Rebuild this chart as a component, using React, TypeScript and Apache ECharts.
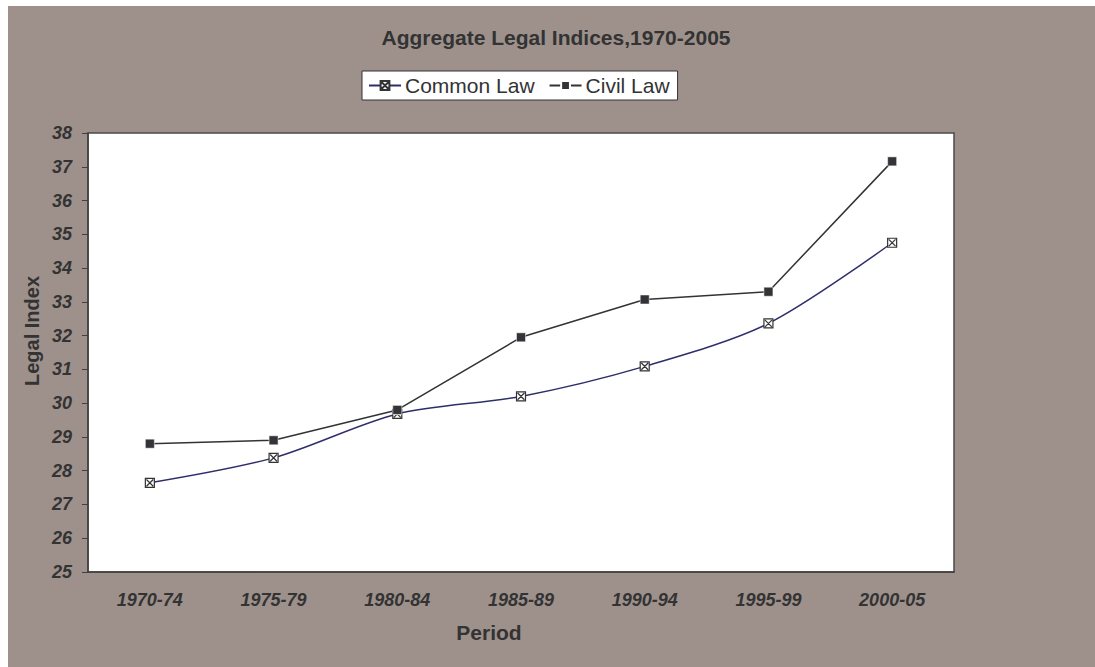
import React, { useEffect, useRef } from "react";
import * as echarts from "echarts";

const categories = ["1970-74", "1975-79", "1980-84", "1985-89", "1990-94", "1995-99", "2000-05"];
const commonLaw = [27.64, 28.38, 29.68, 30.2, 31.09, 32.36, 34.75];
const civilLaw = [28.8, 28.9, 29.8, 31.95, 33.07, 33.3, 37.16];
const titleText = "Aggregate Legal Indices,1970-2005";
const yName = "Legal Index";
const xName = "Period";

const FONT = "'Liberation Sans', Arial, Helvetica, sans-serif";
const TEXT = "#333333";

export default function App() {
  const ref = useRef<HTMLDivElement>(null);
  useEffect(() => {
    if (!ref.current) return;
    const chart = echarts.init(ref.current, undefined, { renderer: "svg" });
    chart.setOption({
      animation: false,
      backgroundColor: "#9E918C",
      textStyle: { fontFamily: FONT },
      graphic: [
        {
          type: "text",
          x: 548,
          y: 31,
          style: {
            text: titleText,
            font: `bold 21px ${FONT}`,
            fill: TEXT,
            textAlign: "center",
            textVerticalAlign: "middle",
          },
        },
        {
          type: "text",
          x: 24,
          y: 325,
          rotation: Math.PI / 2,
          style: {
            text: yName,
            font: `bold 20px ${FONT}`,
            fill: TEXT,
            textAlign: "center",
            textVerticalAlign: "middle",
          },
        },
        {
          type: "text",
          x: 481,
          y: 626,
          style: {
            text: xName,
            font: `bold 21px ${FONT}`,
            fill: TEXT,
            textAlign: "center",
            textVerticalAlign: "middle",
          },
        },
      ],
      legend: {
        left: 354,
        top: 65,
        backgroundColor: "#ffffff",
        borderColor: "#333333",
        borderWidth: 1,
        padding: [4, 8, 4, 6],
        itemWidth: 32,
        itemHeight: 11,
        itemGap: 14,
        textStyle: { fontSize: 21, color: TEXT, fontFamily: FONT, padding: [0, 0, 0, -1] },
        data: ["Common Law", "Civil Law"],
      },
      grid: {
        left: 80,
        right: 141,
        top: 127,
        bottom: 95,
        show: true,
        backgroundColor: "#ffffff",
        borderColor: "#4a4a4a",
        borderWidth: 1.5,
      },
      xAxis: {
        type: "category",
        data: categories,
        boundaryGap: true,
        axisLine: { lineStyle: { color: "#404040", width: 1.5 } },
        axisTick: { length: 5, lineStyle: { color: "#404040" } },
        axisLabel: {
          margin: 19,
          fontSize: 18,
          fontWeight: "bold",
          fontStyle: "italic",
          color: TEXT,
          fontFamily: FONT,
        },
        splitLine: { show: false },
      },
      yAxis: {
        type: "value",
        min: 25,
        max: 38,
        interval: 1,
        axisLine: { show: true, lineStyle: { color: "#404040", width: 1.5 } },
        axisTick: { show: true, length: 6, lineStyle: { color: "#404040" } },
        axisLabel: {
          margin: 16,
          fontSize: 18,
          fontWeight: "bold",
          fontStyle: "italic",
          color: TEXT,
          fontFamily: FONT,
        },
        splitLine: { show: false },
      },
      series: [
        {
          name: "Common Law",
          type: "line",
          data: commonLaw,
          smooth: 0.3,
          symbol: "path://M0,0L8,0L8,8L0,8Z M1,1L7,7 M7,1L1,7",
          symbolSize: 9,
          lineStyle: { color: "#2E2E6B", width: 1.5 },
          itemStyle: { color: "#ffffff", borderColor: "#333333", borderWidth: 1.2 },
        },
        {
          name: "Civil Law",
          type: "line",
          data: civilLaw,
          symbol: "rect",
          symbolSize: 9,
          lineStyle: { color: "#333333", width: 1.5 },
          itemStyle: { color: "#333338", borderColor: "#ffffff", borderWidth: 0.5 },
        },
      ],
    });
    return () => chart.dispose();
  }, []);
  return (
    <div
      ref={ref}
      style={{ position: "absolute", left: 8, top: 6, width: 1087, height: 661 }}
    />
  );
}
